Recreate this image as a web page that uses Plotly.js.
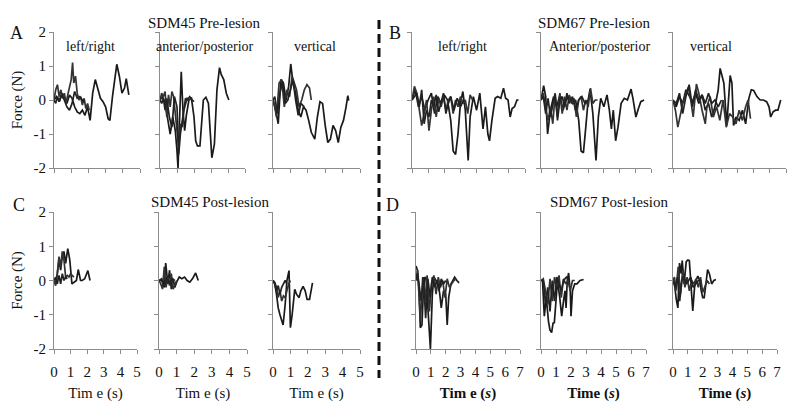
<!DOCTYPE html>
<html>
<head>
<meta charset="utf-8">
<script src="https://cdn.plot.ly/plotly-3.0.1.min.js"></script>
<style>
  body { margin: 0; background: white; }
  #chart { width: 800px; height: 415px; }
</style>
</head>
<body>
<div id="chart"></div>
<script>
// force traces (time in s, force in N)

// SDM45 pre-lesion, left/right
var a1_t1 = [0,0.15,0.3,0.45,0.6,0.75,0.9,1.05,1.2,1.35,1.5,1.65,1.8,1.95,2.1,2.25,2.4,2.55,2.7,2.85,3.0,3.15,3.25,3.4,3.55,3.65,3.8,3.95,4.1,4.2,4.35];
var a1_v1 = [0,0.1,-0.05,0.2,0.1,-0.1,0.15,0.05,-0.2,-0.35,-0.4,-0.3,-0.45,-0.2,-0.6,0.2,0.6,0.35,0.05,-0.05,-0.2,-0.55,-0.6,0.1,0.75,1.05,0.7,0.2,0.35,0.63,0.15];
var a1_t2 = [0,0.1,0.2,0.3,0.4,0.5,0.6,0.7,0.8,0.9,1.0,1.08,1.15,1.25,1.35,1.45,1.55,1.65,1.75,1.85,1.95,2.05];
var a1_v2 = [0,0.3,0.45,0.1,0.3,0.05,0.2,-0.1,0.15,0.35,0.6,1.1,0.5,0.7,0.2,0.0,0.1,-0.15,0.05,-0.25,-0.1,-0.3];
var a1_t3 = [0,0.1,0.2,0.3,0.45,0.6,0.75,0.9,1.05,1.2,1.35,1.5,1.65,1.8];
var a1_v3 = [0,-0.1,0.1,-0.05,0.15,0.0,-0.2,-0.3,-0.1,0.25,0.05,0.1,0.0,-0.05];

// SDM45 pre-lesion, anterior/posterior
var a2_t1 = [0,0.15,0.3,0.45,0.6,0.75,0.9,1.0,1.06,1.15,1.25,1.35,1.45,1.55,1.7,1.85,2.0,2.1,2.2,2.35,2.45,2.55,2.7,2.85,2.95,3.05,3.2,3.35,3.5,3.6,3.75,3.9,4.05];
var a2_v1 = [0,0.1,-0.1,-0.6,-1.0,-0.5,-0.9,-1.5,-2.0,-0.6,0.83,-0.3,-0.9,-0.45,0.0,0.05,-0.5,-1.2,-1.35,-1.35,-0.5,0.0,0.08,-0.1,-0.9,-1.7,-1.3,0.3,0.95,0.75,0.6,0.2,0.0];
var a2_t2 = [0,0.1,0.2,0.3,0.4,0.5,0.6,0.7,0.8,0.9,1.0,1.1,1.2,1.3,1.4,1.5,1.6,1.7,1.8];
var a2_v2 = [0,0.2,0.1,0.25,-0.5,0.15,-0.2,0.25,0.1,-0.4,-0.9,-1.4,-0.7,-0.8,-0.3,-0.1,0.05,0.0,0.05];
var a2_t3 = [0,0.1,0.2,0.3,0.4,0.55,0.7,0.85,1.0,1.1,1.2,1.35,1.5,1.6,1.75,1.9,2.0];
var a2_v3 = [0,-0.1,0.05,-0.3,0.05,-0.5,-0.8,0.1,-0.2,-1.6,-1.0,-0.5,0.05,0.0,0.1,0.0,-0.05];

// SDM45 pre-lesion, vertical
var a3_t1 = [0,0.15,0.3,0.45,0.6,0.75,0.9,1.02,1.15,1.3,1.45,1.6,1.75,1.9,2.05,2.2,2.4,2.55,2.7,2.85,3.0,3.15,3.3,3.45,3.6,3.75,3.9,4.05,4.2,4.3,4.35];
var a3_v1 = [0,-0.3,-0.7,0.6,0.5,0.0,0.4,1.06,0.5,0.2,-0.3,-0.5,-0.2,-0.3,-0.6,-0.95,-1.15,-0.5,-0.05,-0.1,-0.75,-1.25,-1.15,-0.75,-0.9,-1.25,-0.8,-0.6,-0.2,0.13,-0.02];
var a3_t2 = [0,0.1,0.2,0.35,0.5,0.65,0.8,0.95,1.1,1.2,1.35,1.5,1.65,1.8,1.95,2.1,2.2];
var a3_v2 = [0,-0.2,-0.5,0.5,0.6,-0.2,0.3,0.1,0.7,0.55,0.3,-0.2,0.0,0.3,0.45,0.35,0.0];
var a3_t3 = [0,0.1,0.25,0.4,0.55,0.7,0.85,1.0,1.15,1.3,1.45,1.6,1.8];
var a3_v3 = [0,0.1,-0.4,0.2,0.55,-0.1,0.0,0.3,0.6,0.0,-0.45,-0.1,-0.2];

// SDM67 pre-lesion, left/right
var b1_t1 = [0,0.2,0.4,0.6,0.8,1.0,1.2,1.4,1.6,1.8,2.0,2.2,2.4,2.55,2.7,2.85,3.0,3.15,3.3,3.48,3.6,3.8,4.0,4.2,4.4,4.55,4.7,4.8,4.95,5.15,5.3,5.5,5.67,5.8,5.95,6.08,6.2,6.35,6.5,6.6];
var b1_v1 = [0,0.3,-0.2,0.1,-0.3,0.0,0.2,-0.4,0.1,-0.1,0.15,0.0,-0.6,-1.5,-1.6,-1.0,-0.1,0.25,-0.3,-1.78,-0.5,0.1,-0.3,0.2,-0.85,-0.2,-1.0,-1.2,-0.6,0.05,0.1,0.05,0.35,0.05,0.0,-0.5,-0.25,-0.2,0.0,0.0];
var b1_t2 = [0,0.15,0.3,0.45,0.6,0.75,0.9,1.05,1.2,1.35,1.5,1.65,1.8,1.95,2.1,2.25,2.4,2.55,2.7,2.85,3.0,3.15,3.3,3.45,3.6,3.75];
var b1_v2 = [0,0.4,0.2,-0.3,-0.75,-0.4,0.0,-0.9,-0.3,0.1,-0.5,0.05,-0.2,0.1,-0.3,0.0,0.1,-0.4,0.0,-0.2,0.1,-0.1,0.0,-0.4,0.15,0.0];
var b1_t3 = [0,0.15,0.3,0.45,0.6,0.75,0.9,1.05,1.2,1.35,1.5,1.65,1.8,1.95,2.1,2.25,2.4,2.6,2.8,3.0,3.2];
var b1_v3 = [0,0.1,0.2,-0.2,0.3,-0.7,-0.3,-0.5,0.0,-0.2,0.15,-0.35,-0.1,0.2,-0.4,-0.1,0.1,-0.3,0.05,-0.2,0.0];

// SDM67 pre-lesion, anterior/posterior
var b2_t1 = [0,0.17,0.3,0.42,0.6,0.8,1.0,1.2,1.4,1.6,1.8,2.0,2.2,2.4,2.55,2.7,2.85,3.0,3.12,3.3,3.5,3.65,3.8,4.0,4.2,4.35,4.48,4.6,4.75,4.9,5.1,5.3,5.5,5.73,5.85,6.04,6.2,6.35,6.56];
var b2_v1 = [0,0.42,0.1,-1.0,-0.3,0.1,-0.2,0.15,-0.3,0.0,0.1,-0.1,0.0,-0.6,-1.5,-1.55,-0.8,0.0,0.32,-0.4,-1.78,-0.5,0.05,-0.2,0.15,-0.3,-0.85,-0.3,-1.2,-0.8,-0.1,0.05,0.0,0.32,0.05,-0.5,-0.25,-0.05,0.0];
var b2_t2 = [0,0.15,0.3,0.45,0.6,0.75,0.9,1.05,1.2,1.35,1.5,1.65,1.8,1.95,2.1,2.25,2.4,2.55,2.7,2.85,3.0,3.15,3.3,3.45,3.6];
var b2_v2 = [0,0.2,-0.3,-0.6,-0.2,-0.7,0.15,-0.5,0.2,-0.4,0.1,-0.3,0.15,-0.1,0.05,-0.5,0.0,0.1,-0.3,0.0,-0.2,0.35,-0.1,0.0,0.0];
var b2_t3 = [0,0.15,0.3,0.45,0.6,0.75,0.9,1.05,1.2,1.35,1.5,1.65,1.8,2.0,2.2,2.4,2.6,2.8,3.0];
var b2_v3 = [0,0.1,-0.4,0.05,-0.5,-0.1,0.2,-0.6,0.0,0.1,-0.2,0.2,-0.1,0.1,-0.3,0.0,0.1,-0.1,0.0];

// SDM67 pre-lesion, vertical
var b3_t1 = [0,0.2,0.4,0.6,0.8,1.0,1.2,1.4,1.6,1.8,2.0,2.2,2.4,2.6,2.8,2.92,3.05,3.15,3.33,3.45,3.54,3.65,3.75,3.9,4.1,4.3,4.5,4.7,4.85,5.0,5.2,5.4,5.6,5.8,5.95,6.05,6.2,6.35,6.5,6.67];
var b3_v1 = [0,-0.2,0.1,-0.1,0.3,0.1,-0.05,0.2,-0.1,0.15,-0.3,-0.1,-0.5,-0.2,0.3,0.93,0.7,0.5,-0.75,0.1,0.72,0.5,-0.75,-0.5,-0.6,-0.3,-0.7,0.05,0.3,0.28,0.1,0.0,0.0,-0.05,-0.2,-0.5,-0.35,-0.3,-0.3,0.0];
var b3_t2 = [0,0.15,0.3,0.45,0.6,0.8,0.95,1.1,1.25,1.45,1.6,1.8,2.0,2.1,2.3,2.5,2.7,2.9,3.1,3.3,3.5,3.7,3.9,4.1,4.3,4.5,4.65,4.8];
var b3_v2 = [0,-0.3,-0.8,-0.4,-0.1,0.2,0.37,0.0,-0.5,0.47,0.2,-0.3,-0.7,-0.2,0.1,-0.5,-0.2,-0.6,0.0,-0.8,-0.4,-0.5,-0.7,-0.3,-0.6,-0.2,0.0,-0.55];
var b3_t3 = [0,0.2,0.4,0.6,0.8,1.0,1.2,1.4,1.6,1.8,2.0,2.2,2.4,2.6,2.8,3.0];
var b3_v3 = [0,-0.1,0.2,-0.4,0.1,0.45,-0.2,0.3,0.0,0.15,-0.1,0.2,-0.1,0.0,-0.2,0.0];

// SDM45 post-lesion
var c1_t1 = [0,0.1,0.2,0.3,0.4,0.5,0.6,0.7,0.83,0.95,1.08,1.2,1.35,1.46,1.6,1.7,1.85,2.04,2.17];
var c1_v1 = [0,-0.1,0.2,0.6,0.3,0.7,0.85,0.5,0.93,0.6,-0.1,-0.05,0.0,0.32,0.0,0.0,0.05,0.29,0.0];
var c1_t2 = [0,0.1,0.2,0.3,0.4,0.5,0.6,0.7,0.8,0.9,1.0,1.1,1.2];
var c1_v2 = [0,-0.15,0.2,0.7,0.4,0.85,0.6,0.1,0.15,0.1,0.2,0.15,0.1];
var c1_t3 = [0,0.1,0.2,0.3,0.4,0.5,0.6,0.7,0.8];
var c1_v3 = [0,0.1,-0.1,0.15,-0.1,0.2,0.0,0.1,0.05];

var c2_t1 = [0,0.15,0.3,0.38,0.5,0.6,0.7,0.8,0.9,1.0,1.15,1.3,1.45,1.6,1.75,1.9,2.08,2.23];
var c2_v1 = [0,0.0,-0.2,0.51,-0.1,0.3,-0.25,0.05,-0.2,-0.05,0.1,0.05,0.1,0.0,-0.05,0.05,0.22,0.0];
var c2_t2 = [0,0.1,0.2,0.3,0.4,0.5,0.6,0.7,0.8,0.9,1.0];
var c2_v2 = [0,-0.1,-0.25,0.4,-0.2,0.1,-0.15,0.2,-0.25,-0.1,0.0];
var c2_t3 = [0,0.15,0.3,0.45,0.6,0.75,0.9];
var c2_v3 = [0,0.05,-0.15,0.1,-0.1,0.05,0.0];

var c3_t1 = [0,0.1,0.2,0.3,0.4,0.5,0.58,0.7,0.8,0.92,1.0,1.1,1.25,1.35,1.5,1.6,1.73,1.85,1.96,2.1,2.2,2.27];
var c3_v1 = [0,-0.1,-0.4,-0.8,-1.0,-1.2,-1.3,-0.7,0.0,0.29,-1.38,-1.0,-0.26,-0.4,-0.5,-0.3,-0.17,-0.3,-0.55,-0.55,-0.2,-0.07];
var c3_t2 = [0,0.1,0.2,0.3,0.4,0.5,0.6,0.7,0.8,0.9,1.0];
var c3_v2 = [0,-0.05,-0.2,-0.5,-0.3,-0.6,-0.45,-0.5,-0.3,-0.1,0.0];
var c3_t3 = [0,0.1,0.2,0.3,0.4,0.5,0.6,0.7,0.8];
var c3_v3 = [0,-0.1,-0.3,-0.15,-0.4,-0.2,-0.1,0.0,-0.1];

// SDM67 post-lesion
var d1_t1 = [0,0.1,0.2,0.29,0.4,0.5,0.6,0.7,0.8,0.9,0.97,1.1,1.2,1.35,1.5,1.6,1.7,1.85,2.0,2.1,2.2,2.35,2.5,2.6,2.75,2.9];
var d1_v1 = [0.42,0.3,-0.2,-1.38,-1.3,-0.3,0.1,0.05,-0.8,-1.5,-2.0,-0.4,0.1,0.0,-0.1,-0.4,-0.8,-0.3,-0.4,-1.3,-0.5,-0.1,0.05,0.1,0.0,-0.07];
var d1_t2 = [0,0.1,0.2,0.3,0.45,0.6,0.75,0.9,1.05,1.2,1.35,1.5,1.65,1.8,1.95,2.1,2.25,2.4,2.55,2.7];
var d1_v2 = [0,0.3,-0.4,-1.2,0.1,-0.6,0.15,-0.9,-0.1,0.15,-0.4,0.1,-0.2,0.0,-0.5,0.05,-0.2,-0.1,0.0,0.05];
var d1_t3 = [0,0.1,0.2,0.35,0.5,0.65,0.8,0.95,1.1,1.25,1.4,1.55,1.7,1.85,2.0];
var d1_v3 = [0,0.2,-0.1,-0.6,0.1,-1.1,0.05,-0.5,0.1,-0.2,0.0,-0.3,0.05,-0.1,0.0];

var d2_t1 = [0,0.1,0.22,0.35,0.5,0.6,0.71,0.8,0.89,1.0,1.1,1.25,1.38,1.5,1.6,1.67,1.75,1.84,1.95,2.0,2.1,2.25,2.4,2.6,2.84];
var d2_v1 = [0,0.0,-1.04,-0.5,-1.2,-1.45,-1.52,-1.25,-1.23,-0.4,0.0,-0.5,-1.04,-0.6,-0.3,-0.8,0.0,0.22,-0.3,-1.04,-0.3,-0.1,-0.1,0.0,0.03];
var d2_t2 = [0,0.15,0.3,0.45,0.6,0.75,0.9,1.05,1.2,1.35,1.5,1.65,1.8,1.95,2.1,2.25];
var d2_v2 = [0,0.05,-0.3,-0.7,0.05,-0.6,0.1,-0.2,0.15,-0.5,0.05,-0.1,0.0,-0.3,0.0,0.0];
var d2_t3 = [0,0.15,0.3,0.45,0.6,0.75,0.9,1.05,1.2,1.35,1.5,1.7,1.9];
var d2_v3 = [0,0.0,-0.7,-0.2,-0.9,0.0,-0.6,0.1,-0.1,-0.3,0.0,0.1,0.0];

var d3_t1 = [0,0.1,0.22,0.33,0.44,0.55,0.62,0.75,0.89,1.0,1.1,1.2,1.33,1.45,1.55,1.67,1.8,1.9,2.0,2.1,2.2,2.33,2.45,2.6,2.75,2.89];
var d3_v1 = [0,-0.1,-0.55,-0.8,0.51,0.2,0.58,-0.1,0.55,0.6,0.58,0.0,-0.89,-0.2,0.0,0.13,0.0,-0.3,-0.5,-0.5,-0.2,0.32,0.2,-0.1,0.0,0.03];
var d3_t2 = [0,0.1,0.2,0.35,0.5,0.65,0.8,0.95,1.1,1.25,1.4,1.55,1.7,1.85,2.0,2.15,2.3,2.45];
var d3_v2 = [0,0.1,-0.3,0.4,-0.4,0.3,-0.2,0.1,-0.3,0.0,-0.1,0.05,-0.2,0.1,-0.35,-0.2,0.0,-0.1];
var d3_t3 = [0,0.15,0.3,0.45,0.6,0.75,0.9,1.05,1.2,1.35,1.5,1.7,1.9];
var d3_v3 = [0,-0.2,0.1,-0.6,0.0,0.1,-0.1,0.0,0.1,-0.2,-0.1,0.0,0.0];

var yTicks = [-2, -1, 0, 1, 2];
var yTickText = ['-2', '-1', '0', '1', '2'];

// panel placement in page pixels [left, right]
var W = 800, H = 415;
var topRow = [32, 168], botRow = [212, 349];

var panels = [
  {x: [54, 140],  row: topRow, xmax: 5, lab: true,  series: [[a1_t1,a1_v1],[a1_t2,a1_v2],[a1_t3,a1_v3]]},
  {x: [160, 245], row: topRow, xmax: 5, series: [[a2_t1,a2_v1],[a2_t2,a2_v2],[a2_t3,a2_v3]]},
  {x: [273, 360], row: topRow, xmax: 5, series: [[a3_t1,a3_v1],[a3_t2,a3_v2],[a3_t3,a3_v3]]},
  {x: [412, 525], row: topRow, xmax: 7, series: [[b1_t1,b1_v1],[b1_t2,b1_v2],[b1_t3,b1_v3]]},
  {x: [541, 651], row: topRow, xmax: 7, series: [[b2_t1,b2_v1],[b2_t2,b2_v2],[b2_t3,b2_v3]]},
  {x: [673, 786], row: topRow, xmax: 7, series: [[b3_t1,b3_v1],[b3_t2,b3_v2],[b3_t3,b3_v3]]},
  {x: [54, 137],  row: botRow, xmax: 5, lab: true, xt: 'Tim e (s)', series: [[c1_t1,c1_v1],[c1_t2,c1_v2],[c1_t3,c1_v3]]},
  {x: [159, 247], row: botRow, xmax: 5, xt: 'Tim e (s)', series: [[c2_t1,c2_v1],[c2_t2,c2_v2],[c2_t3,c2_v3]]},
  {x: [273, 360], row: botRow, xmax: 5, xt: 'Tim e (s)', series: [[c3_t1,c3_v1],[c3_t2,c3_v2],[c3_t3,c3_v3]]},
  {x: [416, 520], row: botRow, xmax: 7, xt: '<b>Tim e (<i>s</i>)</b>', series: [[d1_t1,d1_v1],[d1_t2,d1_v2],[d1_t3,d1_v3]]},
  {x: [541, 646], row: botRow, xmax: 7, xt: '<b>Time (<i>s</i>)</b>', series: [[d2_t1,d2_v1],[d2_t2,d2_v2],[d2_t3,d2_v3]]},
  {x: [673, 777], row: botRow, xmax: 7, xt: '<b>Time (<i>s</i>)</b>', series: [[d3_t1,d3_v1],[d3_t2,d3_v2],[d3_t3,d3_v3]]}
];

var lineColors = ['#1a1a1a', '#333333', '#222222'];
var serif = 'Liberation Serif';
var axisGray = '#8c8c8c';

var data = [];
var layout = {
  width: W, height: H,
  margin: {l: 0, r: 0, t: 0, b: 0},
  paper_bgcolor: 'white',
  plot_bgcolor: 'white',
  showlegend: false,
  font: {family: serif, color: '#111'},
  annotations: [],
  shapes: []
};

panels.forEach(function(p, i) {
  var n = i + 1;
  var xs = n === 1 ? '' : n;
  var bottom = p.row === botRow;
  p.series.forEach(function(s, k) {
    data.push({
      x: s[0], y: s[1],
      xaxis: 'x' + xs, yaxis: 'y' + xs,
      mode: 'lines',
      line: {color: lineColors[k], width: 1.7},
      hoverinfo: 'skip'
    });
  });
  layout['xaxis' + xs] = {
    domain: [p.x[0] / W, p.x[1] / W],
    anchor: 'y' + xs,
    range: [0, p.xmax],
    tick0: 0, dtick: 1,
    showline: true, linecolor: axisGray, linewidth: 1,
    ticks: 'outside', ticklen: 4, tickcolor: axisGray,
    showgrid: false, zeroline: false,
    showticklabels: bottom,
    ticklabelstandoff: 5,
    tickfont: {family: serif, size: 15, color: '#111'},
    title: bottom ? {text: p.xt, standoff: 8, font: {family: serif, size: 15, color: '#111'}} : {text: ''}
  };
  layout['yaxis' + xs] = {
    domain: [1 - p.row[1] / H, 1 - p.row[0] / H],
    anchor: 'x' + xs,
    range: [-2, 2],
    tickvals: yTicks, ticktext: yTickText,
    showline: true, linecolor: axisGray, linewidth: 1,
    ticks: 'outside', ticklen: 4, tickcolor: axisGray,
    showgrid: false, zeroline: false,
    showticklabels: !!p.lab,
    tickfont: {family: serif, size: 15, color: '#111'},
    title: p.lab ? {text: 'Force (N)', standoff: 7, font: {family: serif, size: 15, color: '#111'}} : {text: ''}
  };
});

function note(text, px, py, size) {
  layout.annotations.push({
    text: text, xref: 'paper', yref: 'paper',
    x: px / W, y: 1 - py / H,
    xanchor: 'center', yanchor: 'middle',
    showarrow: false,
    font: {family: serif, size: size, color: '#111'}
  });
}

// group titles
note('SDM45 Pre-lesion', 205, 23, 15);
note('SDM67 Pre-lesion', 594, 23, 15);
note('SDM45 Post-lesion', 210, 202, 15);
note('SDM67 Post-lesion', 609, 202, 15);
// component names
note('left/right', 90, 47, 14);
note('anterior/posterior', 205, 47, 14);
note('vertical', 315, 47, 14);
note('left/right', 462, 47, 14);
note('Anterior/posterior', 599, 47, 14);
note('vertical', 711, 47, 14);
// panel letters
note('A', 16, 33, 18);
note('B', 395, 33, 18);
note('C', 19, 205, 18);
note('D', 392, 205, 18);

// dashed divider between the two animals
layout.shapes.push({
  type: 'line', xref: 'paper', yref: 'paper',
  x0: 379 / W, x1: 379 / W, y0: 1 - 20 / H, y1: 1 - 378 / H,
  line: {color: '#111', width: 3, dash: '9px,5px'}
});

Plotly.newPlot('chart', data, layout, {displayModeBar: false, staticPlot: true});
</script>
</body>
</html>
